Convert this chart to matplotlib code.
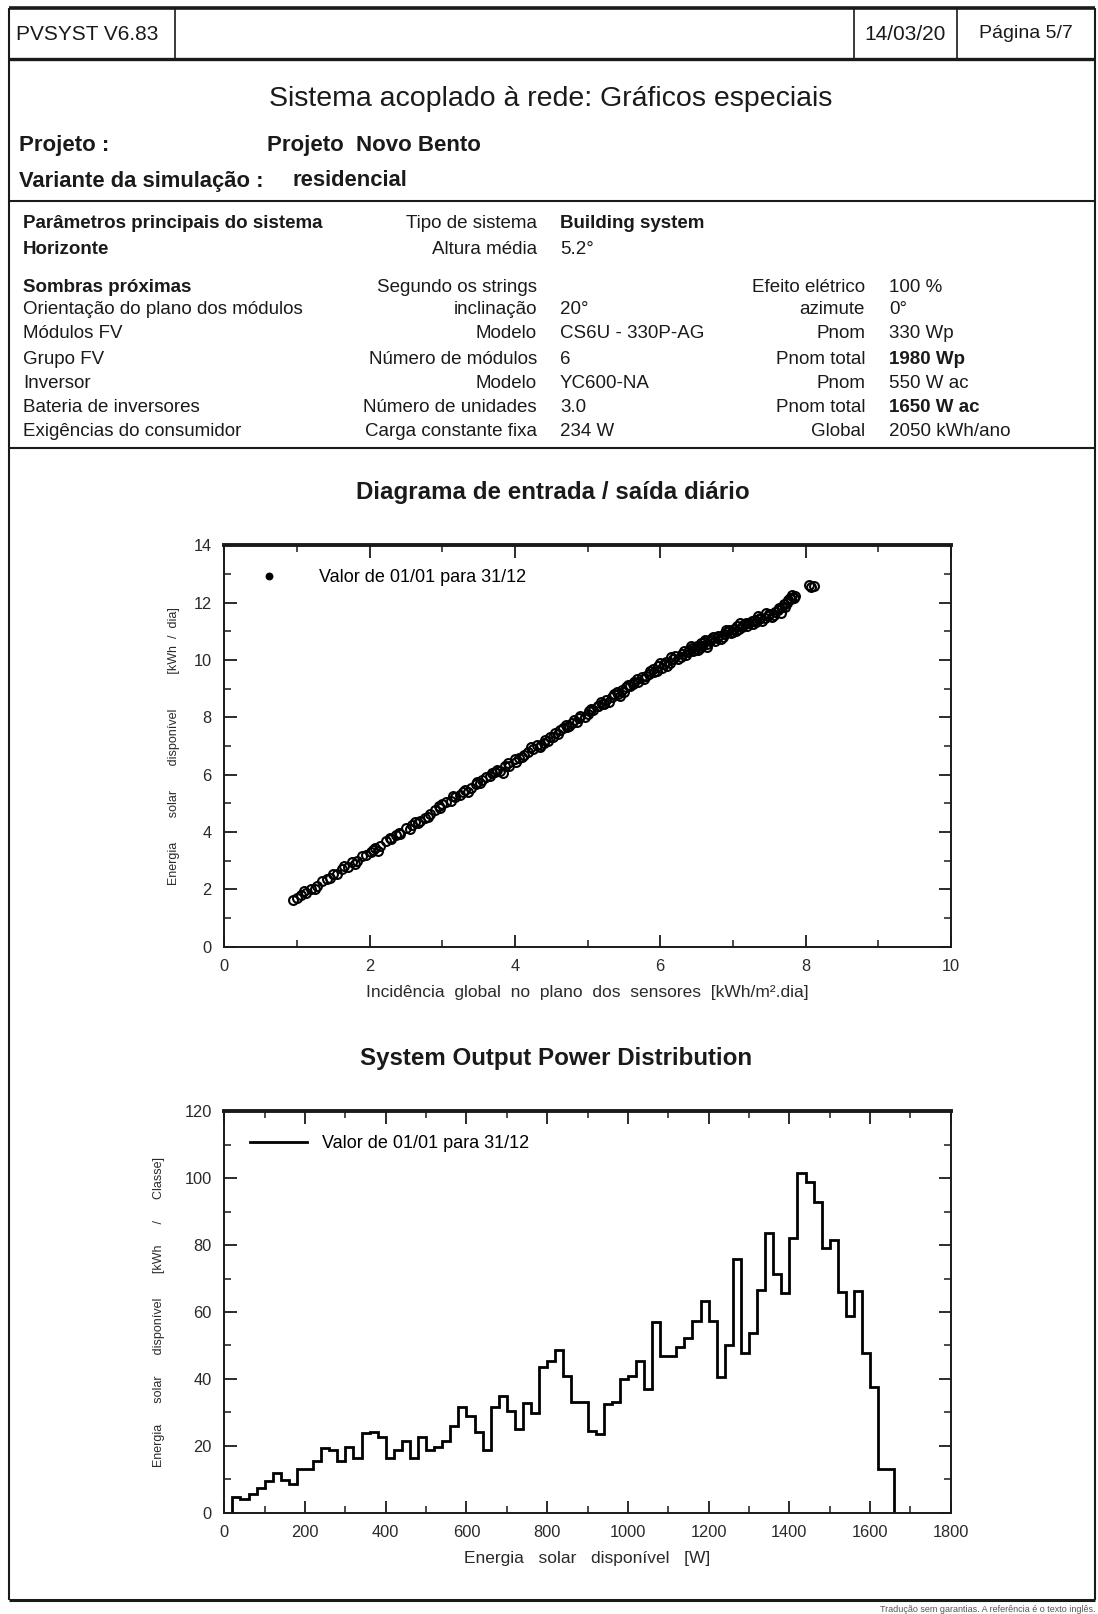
import numpy as np
import matplotlib
matplotlib.use("Agg")
import matplotlib.pyplot as plt
from matplotlib.ticker import MultipleLocator

plt.rcParams['font.family'] = ['Liberation Sans', 'DejaVu Sans']

# ---------------- report data ----------------
software = "PVSYST V6.83"
report_date = "14/03/20"
page_label = "Página 5/7"
page_title = "Sistema acoplado à rede: Gráficos especiais"
project_name = "Projeto  Novo Bento"
variant_name = "residencial"

param_labels = ["Parâmetros principais do sistema", "Horizonte", "Sombras próximas",
                "Orientação do plano dos módulos", "Módulos FV", "Grupo FV", "Inversor",
                "Bateria de inversores", "Exigências do consumidor"]
param_keys = ["Tipo de sistema", "Altura média", "Segundo os strings", "inclinação",
              "Modelo", "Número de módulos", "Modelo", "Número de unidades",
              "Carga constante fixa"]
param_values = ["Building system", "5.2°", "", "20°", "CS6U - 330P-AG", "6",
                "YC600-NA", "3.0", "234 W"]
param_keys2 = ["", "", "Efeito elétrico", "azimute", "Pnom", "Pnom total", "Pnom",
               "Pnom total", "Global"]
param_values2 = ["", "", "100 %", "0°", "330 Wp", "1980 Wp", "550 W ac", "1650 W ac",
                 "2050 kWh/ano"]
bold_labels = [True, True, True, False, False, False, False, False, False]
bold_values = [True, False, False, False, False, False, False, False, False]
bold_values2 = [False, False, False, False, False, True, False, True, False]

# daily input/output: global incidence on collector plane vs available energy
incidence = [0.95, 1.00, 1.05, 1.12, 1.20, 1.28, 1.35, 1.42, 1.50, 1.55, 1.62, 1.70, 1.76,
             1.83, 1.90, 1.95, 2.02, 2.08, 2.15, 2.22, 2.30, 2.36, 2.42, 2.50, 2.55, 2.62,
             2.70, 2.76, 2.83, 2.90, 2.97, 3.05, 3.12, 3.18, 3.25, 3.32, 3.40, 3.46, 3.52,
             3.60, 3.66, 3.72, 3.80, 3.86, 3.92, 4.00, 4.05, 4.12, 4.18, 4.25, 4.30, 4.36,
             4.42, 4.48, 4.55, 4.60, 4.66, 4.72, 4.78, 4.85, 4.90, 4.96, 5.02, 5.08, 5.14,
             5.20, 5.25, 5.30, 5.36, 5.42, 5.48, 5.53, 5.58, 5.64, 5.70, 5.75, 5.80, 5.86,
             5.92, 5.97, 6.02, 6.08, 6.13, 6.18, 6.24, 6.30, 6.35, 6.40, 6.45, 6.50, 6.55,
             6.60, 6.65, 6.70, 6.75, 6.80, 6.86, 6.92, 6.97, 7.02, 7.08, 7.14, 7.20, 7.26,
             7.32, 7.38, 7.44, 7.50, 7.56, 7.62, 7.68, 7.74, 7.80, 7.85, 8.08,
             1.10, 1.45, 1.80, 2.05, 2.40, 2.66, 2.95, 3.28, 3.55, 3.75, 3.83, 4.10, 4.40,
             4.62, 4.82, 5.00, 5.18, 5.33, 5.50, 5.62, 5.78, 5.90, 6.05, 6.15, 6.28, 6.38,
             6.48, 6.58, 6.68, 6.78, 6.88, 6.95, 7.05, 7.12, 7.22, 7.30, 7.40, 7.48, 7.58,
             7.66, 7.72, 7.78, 7.82, 8.12, 6.42, 6.62, 6.52, 7.10, 7.35, 5.95,
             1.25, 1.65, 2.12, 2.28, 2.58, 2.80, 3.00, 3.15, 3.36, 3.48, 3.68, 3.90, 4.02,
             4.22, 4.34, 4.52, 4.70, 4.88, 5.05, 5.22, 5.40, 5.56, 5.68, 5.84, 6.00, 6.10,
             6.20, 6.33, 6.44, 6.56, 6.64, 6.72, 6.84, 6.90, 7.00, 7.06, 7.18, 7.28, 7.36,
             7.46, 7.54, 7.64, 7.70, 7.76, 7.84, 8.05, 5.45, 5.15, 4.75, 4.45]
energy_day = [1.62, 1.70, 1.82, 1.88, 2.02, 2.12, 2.28, 2.35, 2.52, 2.55, 2.70, 2.78, 2.95,
              3.00, 3.18, 3.20, 3.30, 3.45, 3.50, 3.68, 3.75, 3.90, 3.92, 4.15, 4.12, 4.35,
              4.40, 4.50, 4.62, 4.78, 4.85, 5.05, 5.10, 5.22, 5.28, 5.45, 5.52, 5.68, 5.70,
              5.92, 5.95, 6.08, 6.12, 6.32, 6.30, 6.55, 6.58, 6.70, 6.80, 6.90, 7.05, 7.05,
              7.22, 7.30, 7.45, 7.42, 7.62, 7.65, 7.80, 7.85, 8.05, 8.02, 8.22, 8.25, 8.40,
              8.45, 8.62, 8.55, 8.80, 8.82, 8.95, 9.05, 9.08, 9.25, 9.22, 9.40, 9.45, 9.62,
              9.58, 9.80, 9.72, 9.92, 9.90, 10.05, 10.02, 10.20, 10.18, 10.35, 10.30, 10.50,
              10.42, 10.62, 10.55, 10.72, 10.68, 10.85, 10.82, 10.98, 10.95, 11.10, 11.08,
              11.22, 11.20, 11.35, 11.32, 11.48, 11.45, 11.62, 11.58, 11.75, 11.85, 11.98,
              12.12, 12.25, 12.55,
              1.95, 2.40, 2.90, 3.38, 3.98, 4.30, 4.90, 5.38, 5.82, 6.18, 6.05, 6.62, 7.12,
              7.55, 7.92, 8.12, 8.52, 8.72, 8.88, 9.15, 9.35, 9.70, 9.85, 10.12, 10.10, 10.28,
              10.40, 10.50, 10.65, 10.78, 10.90, 11.05, 11.02, 11.15, 11.28, 11.40, 11.38,
              11.52, 11.68, 11.65, 11.85, 12.15, 12.28, 12.60, 10.48, 10.70, 10.35, 11.30,
              11.55, 9.62,
              2.00, 2.82, 3.35, 3.80, 4.25, 4.52, 4.98, 5.25, 5.40, 5.75, 6.05, 6.40, 6.45,
              6.95, 6.95, 7.32, 7.72, 7.98, 8.30, 8.48, 8.90, 9.12, 9.35, 9.52, 9.90, 9.80,
              10.15, 10.30, 10.42, 10.60, 10.45, 10.82, 10.75, 11.05, 10.98, 11.20, 11.30,
              11.25, 11.42, 11.65, 11.50, 11.82, 11.95, 12.10, 12.18, 12.62, 8.75, 8.38,
              7.70, 7.18]

# output power distribution: energy per 20 W class, from 0 W to 1660 W
class_width = 20
class_energy = [0.0, 4.7, 4.0, 5.7, 7.5, 9.5, 12.0, 9.7, 8.7, 13.0,
                13.0, 15.5, 19.2, 18.7, 15.5, 19.5, 16.5, 23.7, 24.0, 22.5,
                16.3, 18.7, 21.5, 16.5, 22.5, 18.7, 19.5, 21.5, 26.0, 31.5,
                29.0, 24.0, 18.7, 31.5, 35.0, 30.5, 25.0, 32.7, 29.7, 43.5,
                45.5, 48.7, 41.0, 33.0, 33.0, 24.5, 23.5, 32.5, 33.0, 40.0,
                41.0, 45.5, 37.0, 57.0, 47.0, 47.0, 49.6, 52.2, 57.4, 63.4,
                57.4, 40.7, 50.0, 76.0, 47.8, 53.6, 66.6, 83.6, 71.4, 65.6,
                82.2, 101.5, 98.8, 92.8, 79.2, 81.4, 65.9, 58.9, 66.2, 47.9,
                37.5, 13.2, 13.2]
class_edges = np.arange(len(class_energy) + 1) * class_width

legend_label = "Valor de 01/01 para 31/12"

# ---------------- figure ----------------
W, H = 1098, 1614
fig = plt.figure(figsize=(W / 100, H / 100), dpi=100)
fig.patch.set_facecolor('white')

# page overlay in pixel coordinates
page = fig.add_axes([0, 0, 1, 1])
page.set_xlim(0, W)
page.set_ylim(H, 0)
page.axis('off')

ink = '#1a1a1a'
L, R = 9, 1095

def hline(y, lw=1.2, x0=L, x1=R):
    page.plot([x0, x1], [y, y], color=ink, lw=lw, solid_capstyle='butt')

def vline(x, y0, y1, lw=1.2):
    page.plot([x, x], [y0, y1], color=ink, lw=lw, solid_capstyle='butt')

# page frame and header
hline(8, lw=2.6)
hline(58.5, lw=2.4)
hline(200.5, lw=1.5)
hline(447.5, lw=1.5)
hline(1600, lw=2.2)
vline(L, 8, 1600, lw=1.5)
vline(R, 8, 1600, lw=1.5)
vline(175, 8, 58.5)
vline(854, 8, 58.5)
vline(957, 8, 58.5)

page.text(16, 34, software, fontsize=15, va='center', ha='left', color=ink)
page.text(905.5, 34, report_date, fontsize=15, va='center', ha='center', color=ink)
page.text(1026, 34, page_label, fontsize=14, va='center', ha='center', color=ink)

page.text(551, 99, page_title, fontsize=20.5, va='center', ha='center', color=ink)
page.text(19, 145, "Projeto :", fontsize=16, fontweight='bold', va='center', color=ink)
page.text(267, 145, project_name, fontsize=16, fontweight='bold', va='center', color=ink)
page.text(19, 181, "Variante da simulação :", fontsize=15.8, fontweight='bold',
          va='center', color=ink)
page.text(293, 181, variant_name, fontsize=15.8, fontweight='bold', va='center', color=ink)

# system parameters table
row_y = [224, 250, 287, 310, 334, 360, 384, 407.5, 431]
fs = 13.5
for i, y in enumerate(row_y):
    page.text(23, y, param_labels[i], fontsize=fs, va='center', ha='left', color=ink,
              fontweight='bold' if bold_labels[i] else 'normal')
    page.text(537, y, param_keys[i], fontsize=fs, va='center', ha='right', color=ink)
    page.text(560, y, param_values[i], fontsize=fs, va='center', ha='left', color=ink,
              fontweight='bold' if bold_values[i] else 'normal')
    page.text(865, y, param_keys2[i], fontsize=fs, va='center', ha='right', color=ink)
    page.text(889, y, param_values2[i], fontsize=fs, va='center', ha='left', color=ink,
              fontweight='bold' if bold_values2[i] else 'normal')

# chart titles
page.text(553, 493, "Diagrama de entrada / saída diário", fontsize=17.4, fontweight='bold',
          va='center', ha='center', color=ink)
page.text(556, 1058, "System Output Power Distribution", fontsize=17.4, fontweight='bold',
          va='center', ha='center', color=ink)

# footer note
page.text(1095, 1609, "Tradução sem garantias. A referência é o texto inglês.", fontsize=6.5,
          va='center', ha='right', color='#555555')

# ---------------- axes styling ----------------
def style_axes(ax):
    for side in ['left', 'right', 'bottom']:
        ax.spines[side].set_linewidth(1.4)
        ax.spines[side].set_color(ink)
    ax.spines['top'].set_linewidth(2.8)
    ax.spines['top'].set_color(ink)
    ax.tick_params(which='both', direction='in', top=True, right=True, color=ink,
                   labelsize=11.8, labelcolor='#2a2a2a', pad=9)
    ax.tick_params(which='major', length=9, width=1.3)
    ax.tick_params(which='minor', length=5, width=1.1)

ax_left = 224.3 / W
ax_w = (950.8 - 224.3) / W
ax_h = (946.7 - 545.4) / H

# daily input/output diagram
ax1 = fig.add_axes([ax_left, 1 - 946.7 / H, ax_w, ax_h])
ax1.plot(incidence, energy_day, linestyle='none', marker='o', markersize=6.4,
         markerfacecolor='none', markeredgecolor='black', markeredgewidth=1.5,
         label=legend_label)
ax1.set_xlim(0, 10)
ax1.set_ylim(0, 14)
ax1.xaxis.set_major_locator(MultipleLocator(2))
ax1.xaxis.set_minor_locator(MultipleLocator(1))
ax1.yaxis.set_major_locator(MultipleLocator(2))
ax1.yaxis.set_minor_locator(MultipleLocator(1))
style_axes(ax1)
ax1.set_xlabel("Incidência  global  no  plano  dos  sensores  [kWh/m².dia]",
               fontsize=12.5, color='#2a2a2a', labelpad=8)
ax1.set_ylabel("Energia       solar       disponível          [kWh  /  dia]", fontsize=9,
               color='#2a2a2a', labelpad=10)
leg1 = ax1.legend(loc='upper left', bbox_to_anchor=(0.043, 0.94), frameon=False,
                  fontsize=13, handlelength=1.5, handletextpad=2.0, markerscale=0.65,
                  borderpad=0, borderaxespad=0)
for h in leg1.legend_handles:
    h.set_markerfacecolor('black')

# output power distribution
ax2 = fig.add_axes([ax_left, 1 - 1512.7 / H, ax_w, ax_h])
ax2.stairs(class_energy, class_edges, baseline=0, color='black', linewidth=2.0,
           label=legend_label)
ax2.set_xlim(0, 1800)
ax2.set_ylim(0, 120)
ax2.xaxis.set_major_locator(MultipleLocator(200))
ax2.xaxis.set_minor_locator(MultipleLocator(100))
ax2.yaxis.set_major_locator(MultipleLocator(20))
ax2.yaxis.set_minor_locator(MultipleLocator(10))
style_axes(ax2)
ax2.set_xlabel("Energia   solar   disponível   [W]", fontsize=12.5, color='#2a2a2a',
               labelpad=8)
ax2.set_ylabel("Energia      solar      disponível       [kWh      /      Classe]",
               fontsize=9, color='#2a2a2a', labelpad=14)
ax2.legend(loc='upper left', bbox_to_anchor=(0.036, 0.941), frameon=False, fontsize=13,
           handlelength=3.15, handletextpad=0.8, borderpad=0, borderaxespad=0)

fig.savefig("out.png", dpi=100, facecolor='white')
